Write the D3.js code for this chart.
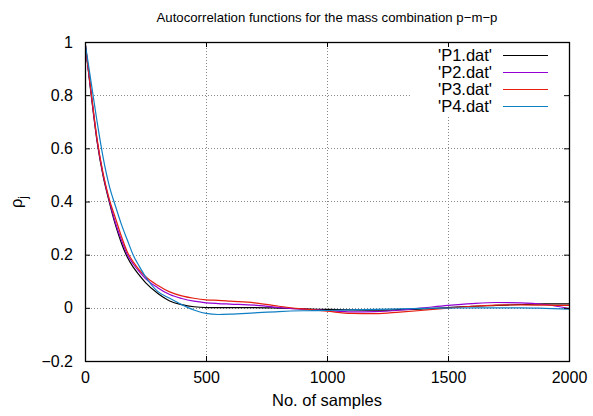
<!DOCTYPE html>
<html><head><meta charset="utf-8">
<script src="https://cdn.jsdelivr.net/npm/d3@7"></script>
<style>body{margin:0;background:#fff}svg{display:block;font-family:"Liberation Sans",Arial,sans-serif}</style>
</head><body><svg id="c" width="593" height="416"></svg>
<script>
const lags = [0,25,50,75,100,125,150,175,200,225,250,300,350,400,450,500,550,600,700,800,900,1000,1100,1200,1300,1400,1500,1600,1700,1800,1900,2000];
const p1 = [1,0.805,0.625,0.495,0.40,0.315,0.245,0.19,0.152,0.122,0.095,0.055,0.026,0.012,0.004,0.001,0.001,0.001,0.001,-0.001,-0.004,-0.006,-0.008,-0.009,-0.007,-0.004,0.001,0.006,0.009,0.0125,0.015,0.015];
const p2 = [1,0.81,0.63,0.50,0.405,0.322,0.256,0.20,0.164,0.135,0.11,0.076,0.05,0.035,0.025,0.019,0.016,0.014,0.01,0.001,-0.005,-0.01,-0.015,-0.014,-0.009,0,0.009,0.016,0.02,0.019,0.0125,-0.0025];
const p3 = [1,0.815,0.635,0.505,0.41,0.34,0.27,0.21,0.172,0.142,0.118,0.085,0.06,0.045,0.036,0.03,0.028,0.025,0.019,0.006,-0.004,-0.0125,-0.021,-0.022,-0.016,-0.009,-0.001,0.006,0.01,0.011,0.01,0.009];
const p4 = [1,0.85,0.70,0.565,0.46,0.385,0.315,0.255,0.197,0.155,0.117,0.062,0.036,0.012,-0.008,-0.021,-0.025,-0.024,-0.019,-0.014,-0.011,-0.01,-0.008,-0.006,-0.004,-0.002,-0.001,0,0,0,-0.002,-0.005];
const seriesNames = ["'P1.dat'","'P2.dat'","'P3.dat'","'P4.dat'"];
const seriesColors = ["#000000","#9400d3","#e51e10","#0f7fc4"];
const xTicks = [0,500,1000,1500,2000];
const yTicks = [-0.2,0,0.2,0.4,0.6,0.8,1];
const titleText = "Autocorrelation functions for the mass combination p\u2212m\u2212p";
const xLabel = "No. of samples";

const svg = d3.select("#c");
const L=85,R=569,T=42,B=361;
const x = d3.scaleLinear().domain([0,2000]).range([L,R]);
const y = d3.scaleLinear().domain([-0.2,1]).range([B,T]);
const fmt = v => (v<0 ? "\u2212"+Math.abs(v) : String(v));

// grid
const g = svg.append("g").attr("stroke","#888").attr("stroke-width",1).attr("stroke-dasharray","1,2");
xTicks.filter(v=>v>0&&v<2000).forEach(v=>g.append("line").attr("x1",x(v)+0.5).attr("x2",x(v)+0.5).attr("y1",T).attr("y2",B));
yTicks.filter(v=>v>-0.2&&v<1).forEach(v=>g.append("line").attr("x1",L).attr("x2",R).attr("y1",Math.round(y(v))+0.5).attr("y2",Math.round(y(v))+0.5));

// series
const allSeries=[p1,p2,p3,p4];
const line = d3.line().x((d,i)=>x(lags[i])).y(d=>y(d)).curve(d3.curveMonotoneX);
svg.append("defs").append("clipPath").attr("id","clip").append("rect").attr("x",L).attr("y",T).attr("width",R-L).attr("height",B-T);
allSeries.forEach((s,i)=>svg.append("path").attr("d",line(s)).attr("fill","none").attr("stroke",seriesColors[i]).attr("stroke-width",1.2).attr("clip-path","url(#clip)"));

// legend box
svg.append("rect").attr("x",411).attr("y",T+1).attr("width",R-411-1).attr("height",74).attr("fill","#fff");
seriesNames.forEach((n,i)=>{
  const yy=55+i*17;
  svg.append("text").attr("x",492).attr("y",yy+6).attr("text-anchor","end").attr("font-size",16.5).text(n);
  svg.append("line").attr("x1",503).attr("x2",548).attr("y1",yy+0.5).attr("y2",yy+0.5).attr("stroke",seriesColors[i]).attr("stroke-width",1.2);
});

// axes with inward ticks on all sides
const ax = svg.append("g");
const xb = d3.axisBottom(x).tickValues(xTicks).tickSize(-5).tickPadding(11).tickFormat(fmt);
const xt = d3.axisTop(x).tickValues(xTicks).tickSize(-5).tickFormat("");
const yl = d3.axisLeft(y).tickValues(yTicks).tickSize(-5).tickPadding(12).tickFormat(fmt);
const yr = d3.axisRight(y).tickValues(yTicks).tickSize(-5).tickFormat("");
[ [xb,`translate(0,${B})`],[xt,`translate(0,${T})`],[yl,`translate(${L},0)`],[yr,`translate(${R},0)`] ].forEach(([a,t])=>{
  const gg=ax.append("g").attr("transform",t).call(a);
  gg.select(".domain").remove();
  gg.selectAll("line").attr("stroke","#000");
  gg.selectAll("text").attr("font-size",16).attr("fill","#000").attr("font-family",'"Liberation Sans",Arial,sans-serif');
});
svg.append("rect").attr("x",L+0.5).attr("y",T+0.5).attr("width",R-L).attr("height",B-T).attr("fill","none").attr("stroke","#000").attr("stroke-width",1.3);

// titles
svg.append("text").attr("x",327).attr("y",22).attr("text-anchor","middle").attr("font-size",13.2).text(titleText);
svg.append("text").attr("x",327).attr("y",406).attr("text-anchor","middle").attr("font-size",16.5).text(xLabel);
const yt = svg.append("text").attr("transform","translate(22,202) rotate(-90)").attr("text-anchor","middle").attr("font-size",16.5);
yt.append("tspan").text("\u03c1");
yt.append("tspan").attr("font-size",12).attr("dy",5).text("j");
</script></body></html>
